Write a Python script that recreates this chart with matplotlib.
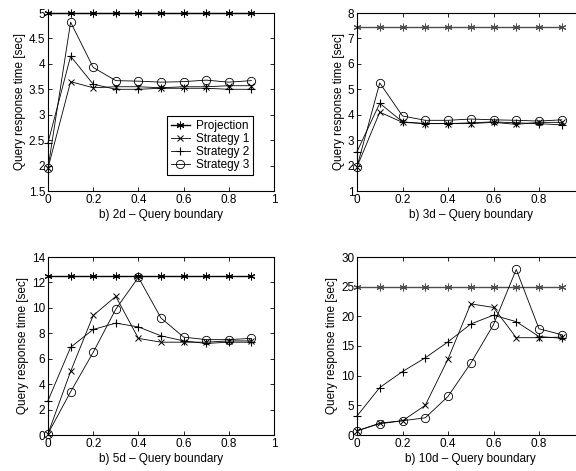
import numpy as np
import matplotlib
matplotlib.use('Agg')
from matplotlib import pyplot as plt

plt.rcParams['font.family'] = ['Liberation Sans', 'DejaVu Sans']
plt.rcParams['font.size'] = 8

x = [0, 0.1, 0.2, 0.3, 0.4, 0.5, 0.6, 0.7, 0.8, 0.9]

# 2d
proj_2d = [5, 5, 5, 5, 5, 5, 5, 5, 5, 5]
s1_2d = [1.95, 3.65, 3.53, 3.55, 3.55, 3.53, 3.55, 3.55, 3.57, 3.57]
s2_2d = [2.45, 4.15, 3.6, 3.5, 3.5, 3.52, 3.52, 3.52, 3.5, 3.5]
s3_2d = [1.95, 4.82, 3.93, 3.67, 3.66, 3.64, 3.65, 3.68, 3.64, 3.67]

# 3d
proj_3d = [7.45] * 10
s1_3d = [1.95, 4.1, 3.7, 3.65, 3.65, 3.65, 3.7, 3.62, 3.7, 3.7]
s2_3d = [2.55, 4.45, 3.72, 3.65, 3.65, 3.68, 3.72, 3.68, 3.65, 3.6]
s3_3d = [1.95, 5.25, 3.95, 3.78, 3.78, 3.83, 3.8, 3.78, 3.75, 3.8]

# 5d
proj_5d = [12.5] * 10
s1_5d = [0.1, 5.0, 9.4, 10.9, 7.6, 7.3, 7.3, 7.3, 7.4, 7.4]
s2_5d = [2.7, 6.9, 8.3, 8.8, 8.5, 7.8, 7.4, 7.2, 7.3, 7.3]
s3_5d = [0.1, 3.4, 6.5, 9.9, 12.4, 9.2, 7.7, 7.5, 7.5, 7.6]

# 10d
proj_10d = [24.9] * 10
s1_10d = [0.7, 2.0, 2.4, 5.0, 12.8, 22.1, 21.5, 16.4, 16.4, 16.5]
s2_10d = [3.2, 8.0, 10.7, 13.0, 15.7, 18.7, 20.2, 19.1, 16.6, 16.3]
s3_10d = [0.7, 1.9, 2.4, 2.9, 6.5, 12.1, 18.6, 27.9, 17.9, 16.9]

xticks = [0, 0.2, 0.4, 0.6, 0.8, 1]
labels = ['Projection', 'Strategy 1', 'Strategy 2', 'Strategy 3']

panels = [
    ([48, 13, 274, 191], proj_2d, s1_2d, s2_2d, s3_2d, (1.5, 5), np.arange(1.5, 5.01, 0.5), '2d', 'k'),
    ([357, 13, 584.5, 191], proj_3d, s1_3d, s2_3d, s3_3d, (1, 8), np.arange(1, 8.01, 1), '3d', '0.3'),
    ([48, 257, 274, 435], proj_5d, s1_5d, s2_5d, s3_5d, (0, 14), np.arange(0, 14.01, 2), '5d', 'k'),
    ([357, 257, 584.5, 435], proj_10d, s1_10d, s2_10d, s3_10d, (0, 30), np.arange(0, 30.01, 5), '10d', '0.3'),
]

W, H = 576, 471
fig = plt.figure(figsize=(W / 100, H / 100), dpi=100)
star = (6, 2, 0)

for box, p, a, b, c, ylim, yt, name, pcol in panels:
    l, t, r, btm = box
    ax = fig.add_axes([l / W, 1 - btm / H, (r - l) / W, (btm - t) / H])
    ax.plot(x, p, '-', marker=star, color=pcol, lw=1.0, ms=5.5, mew=0.75, clip_on=False)
    ax.plot(x, a, '-x', color='k', lw=0.6, ms=4, mew=0.7, clip_on=False)
    ax.plot(x, b, '-+', color='k', lw=0.6, ms=6, mew=0.8, clip_on=False)
    ax.plot(x, c, '-o', color='k', lw=0.6, ms=6, mfc='none', mew=0.6, clip_on=False)
    ax.set_xlim(0, 1)
    ax.set_ylim(*ylim)
    ax.set_xticks(xticks)
    # right-hand panels run past the figure edge, so the last label is not shown
    xl = ['%g' % v for v in xticks]
    if r > W:
        xl[-1] = ''
    ax.set_xticklabels(xl)
    ax.set_yticks(yt)
    ax.set_yticklabels(['%g' % v for v in yt])
    ax.tick_params(direction='in', top=True, right=True, length=3, width=0.6, pad=2, labelsize=8.5)
    for s in ax.spines.values():
        s.set_linewidth(0.8)
    ax.set_xlabel('b) ' + name + ' \u2013 Query boundary', fontsize=8.5, labelpad=2)
    ax.set_ylabel('Query response time [sec]', fontsize=8.5, labelpad=2)
    if name == '2d':
        leg = ax.legend(labels, loc='lower right', bbox_to_anchor=(0.905, 0.09), fontsize=8.5,
                        fancybox=False, framealpha=1, edgecolor='k', borderpad=0.3,
                        labelspacing=0.1, handlelength=1.6, handletextpad=0.5, borderaxespad=0)
        leg.get_frame().set_linewidth(0.8)

plt.savefig('out.png', dpi=100)
